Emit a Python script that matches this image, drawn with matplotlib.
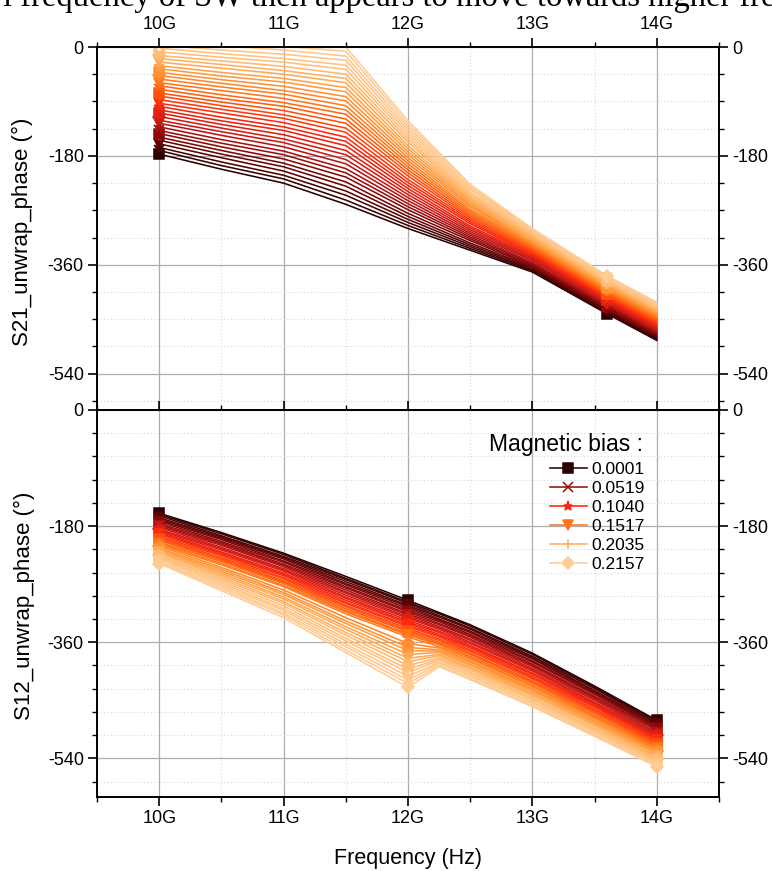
import numpy as np
import matplotlib
matplotlib.use("Agg")
from matplotlib import pyplot as plt
from matplotlib.colors import LinearSegmentedColormap
from matplotlib.ticker import MultipleLocator

plt.rcParams["font.family"] = ["Liberation Sans", "DejaVu Sans"]

# S21 unwrapped phase (deg), one row per bias step (dark -> light)
freq_s21 = [10.0, 10.5, 11.0, 11.5, 12.0, 12.5, 13.0, 13.6, 14.0]
s21_phase = [
    [-177, -202, -225, -260, -300, -336, -372, -441, -485],
    [-171, -196, -218, -253, -295, -333, -370, -439, -483],
    [-166, -190, -212, -245, -290, -330, -368, -437, -481],
    [-160, -183, -205, -238, -285, -327, -366, -436, -480],
    [-154, -177, -198, -230, -280, -324, -364, -434, -478],
    [-149, -171, -192, -223, -275, -320, -362, -432, -476],
    [-143, -165, -185, -215, -269, -317, -360, -430, -474],
    [-138, -159, -178, -208, -264, -314, -358, -428, -472],
    [-132, -153, -172, -201, -259, -311, -356, -427, -471],
    [-126, -146, -165, -193, -254, -308, -353, -425, -469],
    [-121, -140, -158, -186, -249, -305, -351, -423, -467],
    [-115, -134, -152, -178, -244, -302, -349, -421, -465],
    [-109, -128, -145, -171, -239, -299, -347, -419, -463],
    [-104, -122, -138, -163, -234, -296, -345, -418, -462],
    [-98, -116, -132, -156, -229, -292, -343, -416, -460],
    [-93, -109, -125, -149, -224, -289, -341, -414, -458],
    [-87, -103, -118, -141, -219, -286, -339, -412, -456],
    [-81, -97, -112, -134, -213, -283, -337, -410, -454],
    [-76, -91, -105, -126, -208, -280, -335, -409, -453],
    [-70, -85, -98, -119, -203, -277, -333, -407, -451],
    [-64, -79, -92, -111, -198, -274, -331, -405, -449],
    [-59, -72, -85, -104, -193, -271, -329, -403, -447],
    [-53, -66, -78, -97, -188, -268, -327, -401, -445],
    [-47, -60, -72, -89, -183, -264, -325, -400, -444],
    [-42, -54, -65, -82, -178, -261, -323, -398, -442],
    [-36, -48, -58, -74, -173, -258, -321, -396, -440],
    [-31, -42, -52, -67, -168, -255, -318, -394, -438],
    [-25, -35, -45, -59, -163, -252, -316, -392, -436],
    [-19, -29, -39, -52, -157, -249, -314, -391, -435],
    [-14, -23, -32, -45, -152, -246, -312, -389, -433],
    [-8, -17, -25, -37, -147, -243, -310, -387, -431],
    [-2, -11, -19, -30, -142, -240, -308, -385, -429],
    [3, -5, -12, -22, -137, -236, -306, -383, -427],
    [9, 2, -5, -15, -132, -233, -304, -382, -426],
    [14, 8, 1, -7, -127, -230, -302, -380, -424],
    [20, 14, 8, 0, -122, -227, -300, -378, -422],
]

# S12 unwrapped phase (deg)
freq_s12 = [10.0, 10.5, 11.0, 11.5, 12.0, 12.25, 12.5, 13.0, 13.5, 14.0]
s12_phase = [
    [-160, -190, -222, -258, -295, -314, -333, -377, -428, -481],
    [-162, -192, -224, -261, -298, -316, -335, -379, -430, -483],
    [-164, -195, -227, -263, -300, -319, -338, -382, -432, -485],
    [-167, -197, -229, -266, -303, -321, -340, -384, -435, -487],
    [-169, -199, -231, -269, -305, -324, -343, -386, -437, -489],
    [-171, -201, -234, -271, -308, -326, -345, -389, -439, -491],
    [-173, -204, -236, -274, -311, -328, -348, -391, -441, -493],
    [-176, -206, -239, -276, -313, -331, -350, -394, -444, -495],
    [-178, -208, -241, -279, -316, -333, -352, -396, -446, -497],
    [-180, -210, -243, -282, -318, -336, -355, -398, -448, -500],
    [-182, -213, -246, -284, -321, -338, -357, -401, -450, -502],
    [-185, -215, -248, -287, -323, -340, -360, -403, -453, -504],
    [-187, -217, -250, -290, -326, -343, -362, -405, -455, -506],
    [-189, -220, -253, -292, -329, -345, -365, -408, -457, -508],
    [-191, -222, -255, -295, -331, -348, -367, -410, -459, -510],
    [-193, -224, -257, -298, -334, -350, -369, -413, -461, -512],
    [-196, -226, -260, -300, -336, -352, -372, -415, -464, -514],
    [-198, -229, -262, -303, -339, -355, -374, -417, -466, -516],
    [-200, -231, -265, -305, -342, -357, -377, -420, -468, -518],
    [-202, -233, -267, -308, -344, -360, -379, -422, -470, -520],
    [-205, -235, -269, -311, -347, -362, -382, -424, -473, -522],
    [-207, -238, -272, -313, -349, -364, -384, -427, -475, -524],
    [-209, -240, -274, -316, -352, -367, -386, -429, -477, -526],
    [-211, -244, -279, -322, -362, -369, -389, -432, -479, -528],
    [-214, -247, -283, -327, -368, -372, -391, -434, -482, -530],
    [-216, -250, -286, -331, -373, -374, -394, -436, -484, -532],
    [-218, -253, -290, -336, -379, -376, -396, -439, -486, -534],
    [-220, -256, -293, -340, -385, -379, -399, -441, -488, -537],
    [-222, -259, -297, -345, -390, -381, -401, -443, -490, -539],
    [-225, -262, -300, -349, -396, -384, -403, -446, -493, -541],
    [-227, -265, -304, -354, -402, -386, -406, -448, -495, -543],
    [-229, -268, -308, -358, -407, -388, -408, -450, -497, -545],
    [-231, -271, -311, -363, -413, -391, -411, -453, -499, -547],
    [-234, -274, -315, -367, -419, -393, -413, -455, -502, -549],
    [-236, -277, -318, -372, -424, -396, -416, -458, -504, -551],
    [-238, -280, -322, -376, -430, -398, -418, -460, -506, -553],
]

legend_bias = ["0.0001", "0.0519", "0.1040", "0.1517", "0.2035", "0.2157"]
legend_curves = [0, 7, 14, 21, 28, 35]

x_ticks = [10, 11, 12, 13, 14]
x_tick_labels = ["10G", "11G", "12G", "13G", "14G"]
y_ticks = [0, -180, -360, -540]
y_tick_labels = ["0", "-180", "-360", "-540"]

cmap = LinearSegmentedColormap.from_list(
    "bias", ["#2a0000", "#7a0505", "#c81818", "#ff2a0a", "#ff6a10",
             "#ff9a3a", "#ffbe78", "#ffcc95"])
markers = ["s", "x", "*", "v", "+", "D"]
hollow = [5, 17, 31]

W, H = 772, 871
fig = plt.figure(figsize=(W / 100, H / 100), dpi=100)
ax1 = fig.add_axes([97 / W, 1 - 410 / H, 622 / W, 363 / H])
ax2 = fig.add_axes([97 / W, 1 - 797 / H, 622 / W, 387 / H])


def style_axes(ax, minor_y):
    ax.set_xlim(9.5, 14.5)
    ax.set_ylim(-600, 0)
    ax.set_xticks(x_ticks, x_tick_labels)
    ax.set_yticks(y_ticks, y_tick_labels)
    ax.xaxis.set_minor_locator(MultipleLocator(0.5))
    ax.yaxis.set_minor_locator(MultipleLocator(minor_y))
    ax.set_axisbelow(True)
    ax.grid(which="major", color="#adadad", lw=0.9)
    ax.grid(which="minor", color="#d8d8d8", lw=0.8, ls=(0, (1, 2)))
    for s in ax.spines.values():
        s.set_linewidth(1.4)
    ax.tick_params(which="major", direction="out", length=6.5, width=1.2,
                   labelsize=13, pad=3)
    ax.tick_params(which="minor", direction="out", length=3.5, width=1.0)
    ax.tick_params(axis="y", which="both", left=True, right=True,
                   labelleft=True, labelright=True)


def draw(ax, freq, phase, marks):
    n = len(phase)
    lines = []
    for k, row in enumerate(phase):
        c = cmap(k / (n - 1))
        m = markers[k % len(markers)]
        face = c
        ms = 6.5
        if k in hollow:
            m, face, ms = "o", "white", 4.5
        ln, = ax.plot(freq, row, color=c, lw=1.15, marker=m, ms=ms,
                      mfc=face, mec=c, mew=1.1, markevery=marks,
                      solid_joinstyle="round")
        lines.append(ln)
    return lines


draw(ax1, freq_s21, s21_phase, [0, 7])
lines2 = draw(ax2, freq_s12, s12_phase, [0, 4, 9])

style_axes(ax1, 45)
style_axes(ax2, 36)
ax1.tick_params(axis="x", which="both", top=True, bottom=True,
                labeltop=True, labelbottom=False, pad=3.5)
ax2.tick_params(axis="x", which="both", top=True, bottom=True,
                labeltop=False, labelbottom=True)

ax2.text(0.878, 0.91, "Magnetic bias :", transform=ax2.transAxes,
         ha="right", va="center", fontsize=16.5)
ax2.legend([lines2[k] for k in legend_curves], legend_bias,
           loc="upper right", bbox_to_anchor=(0.88, 0.866), frameon=False,
           fontsize=12.5, borderpad=0, borderaxespad=0, labelspacing=0.22,
           handlelength=2.1, handletextpad=0.25, numpoints=1)

fig.text(22 / W, 1 - 232 / H, "S21_unwrap_phase (°)", rotation=90,
         ha="center", va="center", fontsize=16)
fig.text(24 / W, 1 - 606 / H, "S12_unwrap_phase (°)", rotation=90,
         ha="center", va="center", fontsize=16)
fig.text(408 / W, 1 - 858 / H, "Frequency (Hz)", ha="center", va="center",
         fontsize=15.5)

fig.text(3 / W, 1 - 6 / H,
         "l frequency of SW then appears to move towards higher fre",
         family="Liberation Serif", fontsize=23.5, ha="left", va="baseline")

fig.savefig("out.png", dpi=100)
